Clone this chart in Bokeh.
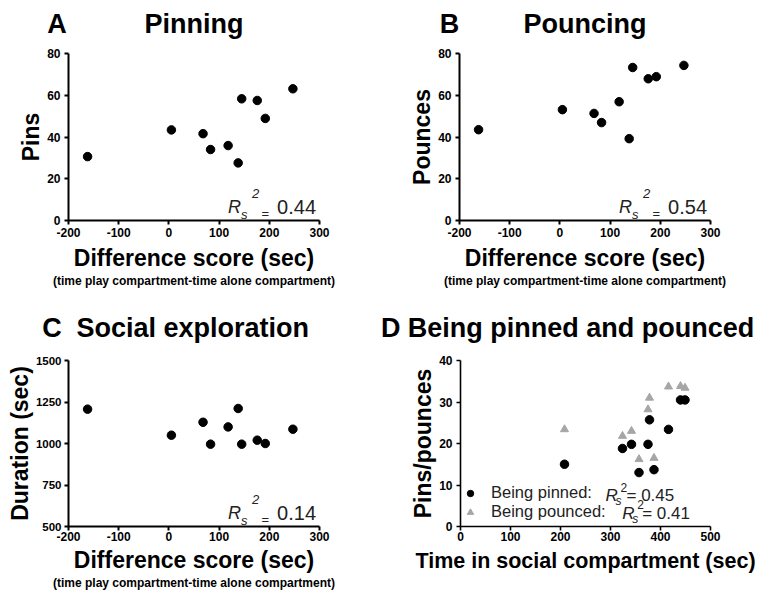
from bokeh.plotting import figure
from bokeh.models import Range1d, Label, Legend, LegendItem, FixedTicker, Title
from bokeh.layouts import column, row
from bokeh.embed import file_html
from bokeh.resources import INLINE

FONT = "Liberation Sans"

# ---- data ----
diff_score = [-162, 5, 68, 83, 118, 138, 145, 176, 192, 247]
pins = [30.6, 43.4, 41.6, 34.0, 35.9, 27.6, 58.3, 57.5, 48.9, 63.1]
pounces = [43.5, 53.1, 51.3, 46.9, 56.9, 39.2, 73.3, 67.9, 68.9, 74.3]
duration = [1207, 1050, 1128, 996, 1100, 1211, 996, 1020, 1000, 1086]

time_social = [208, 324, 342, 357, 375, 378, 387, 416, 440, 449]
being_pinned = [15.0, 18.8, 19.8, 13.0, 19.8, 25.7, 13.7, 23.4, 30.5, 30.5]
being_pounced = [23.4, 21.8, 23.0, 16.2, 28.2, 31.0, 16.5, 33.7, 33.8, 33.4]

diff_ticks = [-200, -100, 0, 100, 200, 300]
count_ticks = [0, 20, 40, 60, 80]
duration_ticks = [500, 750, 1000, 1250, 1500]
time_ticks = [0, 100, 200, 300, 400, 500]
pp_ticks = [0, 10, 20, 30, 40]

panel_letters = ["A", "B", "C", "D"]
panel_titles = ["Pinning", "Pouncing", "Social exploration", "Being pinned and pounced"]
rs_values = ["0.44", "0.54", "0.14"]
rs_legend = ["0.45", "0.41"]
SUBTITLE = "(time play compartment-time alone compartment)"

TOTAL_W = 765


def base_fig(w, h, xr, yr, bl, br, bt, bb):
    p = figure(width=w, height=h, x_range=Range1d(*xr), y_range=Range1d(*yr),
               output_backend="svg", toolbar_location=None,
               min_border_left=bl, min_border_right=br,
               min_border_top=bt, min_border_bottom=bb)
    p.xgrid.visible = False
    p.ygrid.visible = False
    p.outline_line_color = None
    p.background_fill_color = "white"
    p.border_fill_color = "white"
    return p


def title_strip(h, items, baseline_y):
    # a bare full-width strip (no axes) used for the two panel headings of a row
    t = figure(width=TOTAL_W, height=h, x_range=Range1d(0, TOTAL_W), y_range=Range1d(0, h),
               output_backend="svg", toolbar_location=None,
               x_axis_location=None, y_axis_location=None,
               min_border_left=0, min_border_right=0, min_border_top=0, min_border_bottom=0)
    t.xgrid.visible = False
    t.ygrid.visible = False
    t.outline_line_color = None
    t.background_fill_color = "white"
    t.border_fill_color = "white"
    for txt, x, align in items:
        t.add_layout(Label(x=x, y=baseline_y, text=txt, text_align=align,
                           text_baseline="alphabetic", text_font=FONT,
                           text_font_style="bold", text_font_size="27px",
                           text_color="black"))
    return t


def style_axis(ax, ticks, label, label_size, tick_size, tick_standoff, label_standoff, lw):
    ax.ticker = FixedTicker(ticks=ticks)
    ax.major_label_overrides = {t: str(t) for t in ticks}
    ax.axis_label = label
    ax.axis_label_text_font = FONT
    ax.axis_label_text_font_style = "bold"
    ax.axis_label_text_font_size = label_size
    ax.axis_label_text_color = "black"
    ax.axis_label_standoff = label_standoff
    ax.major_label_text_font = FONT
    ax.major_label_text_font_style = "bold"
    ax.major_label_text_font_size = tick_size
    ax.major_label_text_color = "black"
    ax.major_label_standoff = tick_standoff
    ax.axis_line_width = lw
    ax.axis_line_color = "black"
    ax.major_tick_line_width = lw
    ax.major_tick_line_color = "black"
    ax.major_tick_out = 4
    ax.major_tick_in = 0
    ax.minor_tick_out = 0
    ax.minor_tick_in = 0


def add_subtitle(p, standoff):
    p.add_layout(Title(text=SUBTITLE, align="center", standoff=standoff,
                       vertical_align="top", text_font=FONT, text_font_style="bold",
                       text_font_size="12px", text_color="black"), "below")


def lab(p, x, y, dx, dy, text, size, italic=False, align="left"):
    p.add_layout(Label(x=x, y=y, x_offset=dx, y_offset=dy, text=text,
                       text_align=align, text_baseline="alphabetic",
                       text_font=FONT, text_font_style="italic" if italic else "normal",
                       text_font_size=size, text_color="#222222"))


def add_rs(p, xr, yr, val):
    x, y = xr[1], yr[0]
    lab(p, x, y, -91.5, 13.5, "R", "18px", True)
    lab(p, x, y, -78.5, 6.5, "s", "13px", True)
    lab(p, x, y, -67.5, 27.5, "2", "13px", True)
    lab(p, x, y, -58, 7, "=", "13px")
    lab(p, x, y, -3.5, 14, val, "20px", align="right")


XR = (-200, 300)

# ---- headings ----
t1 = title_strip(41, [(panel_letters[0], 46.7, "left"), (panel_titles[0], 193.5, "center"),
                      (panel_letters[1], 439.3, "left"), (panel_titles[1], 584.5, "center")], 17.6)
t2 = title_strip(50, [(panel_letters[2], 41.7, "left"), (panel_titles[2], 192.3, "center"),
                      (panel_letters[3], 380.5, "left"), (panel_titles[3], 580.5, "center")], 21)

# ---- Panel A ----
pA = base_fig(378, 257, XR, (0, 80), 68, 59, 12, 78)
style_axis(pA.xaxis[0], diff_ticks, "Difference score (sec)", "23px", "12px", 3, 5, 2)
style_axis(pA.yaxis[0], count_ticks, "Pins", "23px", "12px", 4, 0, 2)
pA.scatter(diff_score, pins, size=8.5, color="black", marker="circle")
add_subtitle(pA, 1)
add_rs(pA, XR, (0, 80), rs_values[0])

# ---- Panel B ----
pB = base_fig(387, 257, XR, (0, 80), 81, 55, 12, 78)
style_axis(pB.xaxis[0], diff_ticks, "Difference score (sec)", "23px", "12px", 3, 5, 2)
style_axis(pB.yaxis[0], count_ticks, "Pounces", "23px", "12px", 4, 0, 2)
pB.scatter(diff_score, pounces, size=8.5, color="black", marker="circle")
add_subtitle(pB, 1)
add_rs(pB, XR, (0, 80), rs_values[1])

# ---- Panel C ----
pC = base_fig(378, 246, XR, (500, 1500), 68, 59, 12, 68)
style_axis(pC.xaxis[0], diff_ticks, "Difference score (sec)", "23px", "12px", 1, 3, 2)
style_axis(pC.yaxis[0], duration_ticks, "Duration (sec)", "23px", "11.5px", 3, 0, 2)
pC.scatter(diff_score, duration, size=8.5, color="black", marker="circle")
add_subtitle(pC, 1)
add_rs(pC, XR, (500, 1500), rs_values[2])

# ---- Panel D ----
XD, YD = (0, 500), (0, 40)
pD = base_fig(387, 246, XD, YD, 82, 55, 12, 68)
style_axis(pD.xaxis[0], time_ticks, "Time in social compartment (sec)", "21.5px", "12px", 1, 5, 1.6)
style_axis(pD.yaxis[0], pp_ticks, "Pins/pounces", "23px", "12px", 4, 0, 1.6)
r_tri = pD.scatter(time_social, being_pounced, size=8, color="#a6a6a6", marker="triangle")
r_circ = pD.scatter(time_social, being_pinned, size=8.5, color="black", marker="circle")

legend = Legend(items=[LegendItem(label="Being pinned:", renderers=[r_circ]),
                       LegendItem(label="Being pounced:", renderers=[r_tri])],
                location=(0, 5), padding=0, margin=0, spacing=0,
                glyph_width=20, glyph_height=16, label_height=16, label_standoff=11,
                label_text_font=FONT, label_text_font_size="16.5px",
                label_text_color="#222222",
                border_line_color=None, background_fill_alpha=0)
pD.add_layout(legend)

x0, y0 = XD[0], YD[0]
# legend line 1
lab(pD, x0, y0, 145, 31, "R", "17px", True)
lab(pD, x0, y0, 155, 26, "s", "12px", True)
lab(pD, x0, y0, 160, 39.5, "2", "12px")
lab(pD, x0, y0, 166, 31, "= " + rs_legend[0], "17px")
# legend line 2
lab(pD, x0, y0, 161.7, 13.5, "R", "17px", True)
lab(pD, x0, y0, 171.7, 8, "s", "12px", True)
lab(pD, x0, y0, 176.7, 22, "2", "12px")
lab(pD, x0, y0, 181.7, 13.5, "= " + rs_legend[1], "17px")

layout = column(t1, row(pA, pB), t2, row(pC, pD))

open("out.html", "w").write(file_html(layout, INLINE))
